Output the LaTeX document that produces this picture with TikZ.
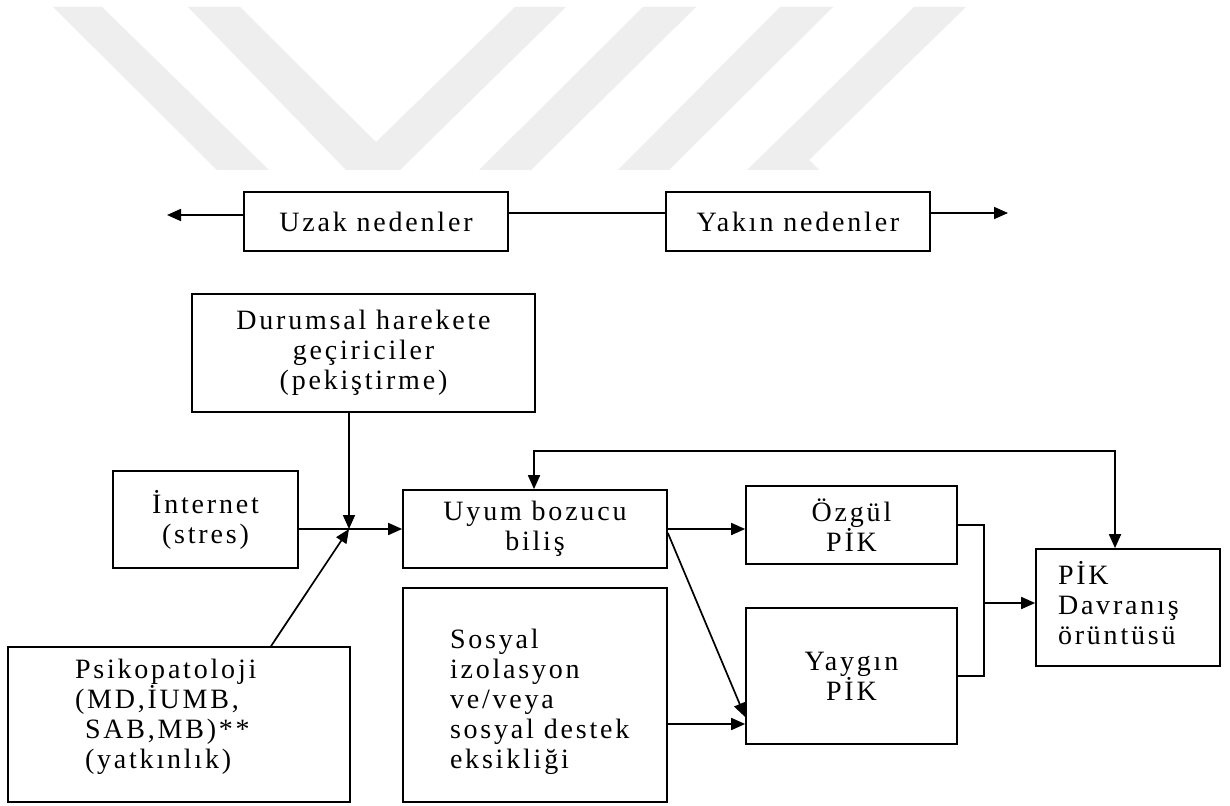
\documentclass[tikz,border=0pt]{standalone}
\usepackage{fontspec}
\setmainfont{Liberation Serif}[LetterSpace=10]
\usetikzlibrary{arrows.meta}
\definecolor{wm}{HTML}{EEEEEE}
\begin{document}
\begin{tikzpicture}[x=1pt,y=-1pt,
  font=\fontsize{28}{30}\selectfont,
  line width=1.7pt,
  box/.style={draw, line width=1.7pt, inner sep=0pt, align=center},
  txt/.style={inner sep=0pt, align=left, anchor=west},
  arr/.style={-{Triangle[length=14pt,width=12pt]}},
  darr/.style={{Triangle[length=14pt,width=12pt]}-{Triangle[length=14pt,width=12pt]}}]
\useasboundingbox (0,0) rectangle (1230,805);
\fill[white] (0,0) rectangle (1230,805);
% watermark
\fill[wm] (53,7) -- (102,7) -- (269,170) -- (217,170) -- cycle;
\fill[wm] (188,7) -- (240,7) -- (376,142) -- (515,7) -- (566,7) -- (400,170) -- (346,170) -- cycle;
\fill[wm] (643,7) -- (696,7) -- (531,170) -- (479,170) -- cycle;
\fill[wm] (780,7) -- (833,7) -- (669,170) -- (618,170) -- cycle;
\fill[wm] (914,7) -- (966,7) -- (809,160) -- (819,170) -- (747,170) -- cycle;
% top row
\node[box, minimum width=264pt, minimum height=59pt] (uzak) at (376,221.5) {Uzak nedenler};
\node[box, minimum width=264pt, minimum height=59pt] (yakin) at (798,221.5) {Yakın nedenler};
\coordinate (uzL) at (167,215);
\coordinate (mid) at (587,213);
\coordinate (yaR) at (1008,213);
\draw[arr] (uzak.west |- uzL) -- (uzL);
\draw (uzak.east |- mid) -- (yakin.west |- mid);
\draw[arr] (yakin.east |- yaR) -- (yaR);
% boxes
\node[box, minimum width=343pt, minimum height=118pt] (durum) at (363.5,353) {Durumsal harekete\\geçiriciler\\(pekiştirme)};
\node[box, minimum width=185pt, minimum height=97pt] (inet) at (205.5,519.5) {İnternet\\(stres)};
\node[box, minimum width=264pt, minimum height=78pt] (uyum) at (535,529) {Uyum bozucu\\biliş};
\node[box, minimum width=211pt, minimum height=78pt] (ozgul) at (851.5,525) {Özgül\\PİK};
\node[box, minimum width=264pt, minimum height=214pt] (sosyal) at (535,695) {};
\node[txt] (sosyalT) at ([xshift=47pt,yshift=-7pt]sosyal.west) {Sosyal\\izolasyon\\ve/veya\\sosyal destek\\eksikliği};
\node[box, minimum width=211pt, minimum height=136pt] (yaygin) at (851.5,676) {Yaygın\\PİK};
\node[box, minimum width=184pt, minimum height=117pt] (pik) at (1128,607.5) {};
\node[txt] (pikT) at ([xshift=22pt,yshift=4pt]pik.west) {PİK\\Davranış\\örüntüsü};
\node[box, minimum width=342pt, minimum height=155pt] (psiko) at (179,724.5) {};
\node[txt] (psikoT) at ([xshift=67pt,yshift=8pt]psiko.west) {Psikopatoloji\\(MD,İUMB,\\\hspace*{10pt}SAB,MB)**\\\hspace*{10pt}(yatkınlık)};
% connectors
\coordinate (j) at (349,529);
\draw[arr] (j |- durum.south) -- (j);
\draw (inet.east |- j) -- (j);
\draw[arr] ([xshift=92pt]psiko.north) -- (j);
\draw[arr] (j) -- (uyum.west |- j);
\draw[arr] (uyum.east) -- (ozgul.west |- uyum.east);
\draw[arr] ([yshift=-4pt]uyum.east) -- ([yshift=-41pt]yaygin.west);
\draw[arr] ([yshift=-29pt]sosyal.east) -- ([yshift=-48pt]yaygin.west);
\coordinate (br) at (984,603);
\draw (ozgul.east) -- (ozgul.east -| br) -- (yaygin.east -| br) -- (yaygin.east);
\draw[arr] (br) -- (pik.west |- br);
\coordinate (fbL) at (534,451);
\coordinate (fbR) at (1115,451);
\draw[darr] (uyum.north -| fbL) -- (fbL) -- (fbR) -- (pik.north -| fbR);
\end{tikzpicture}
\end{document}
